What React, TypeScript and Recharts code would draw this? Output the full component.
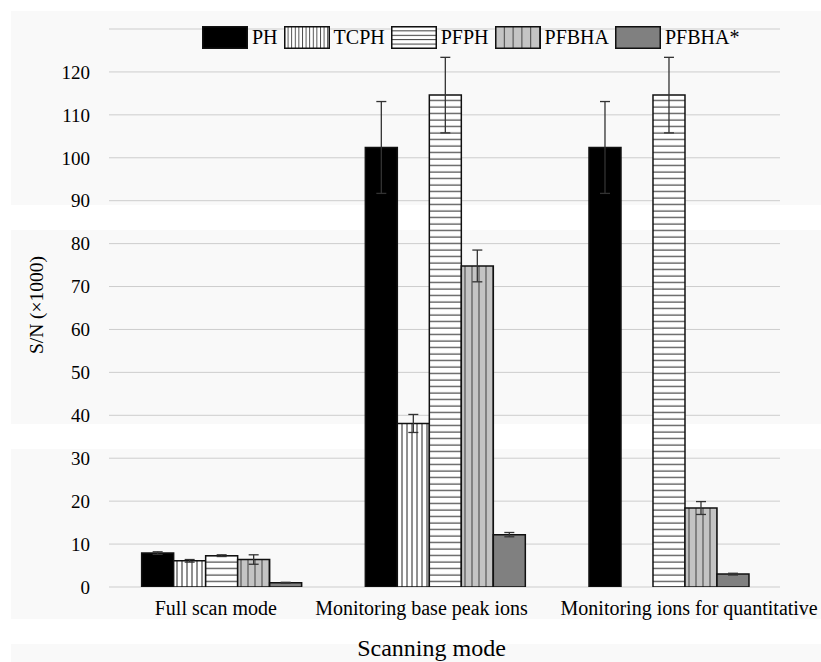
import { BarChart, Bar, XAxis, YAxis, CartesianGrid, ErrorBar } from 'recharts';

const categories = ['Full scan mode', 'Monitoring base peak ions', 'Monitoring ions for quantitative'];
const yTicks = [0, 10, 20, 30, 40, 50, 60, 70, 80, 90, 100, 110, 120];

const phValues = [7.9, 102.4, 102.4];
const phErrors = [0.3, 10.7, 10.7];
const tcphValues = [6.1, 38.1, null];
const tcphErrors = [0.3, 2.1, null];
const pfphValues = [7.3, 114.6, 114.6];
const pfphErrors = [0.2, 8.8, 8.8];
const pfbhaValues = [6.4, 74.8, 18.4];
const pfbhaErrors = [1.1, 3.7, 1.5];
const pfbhaStarValues = [1.0, 12.2, 3.0];
const pfbhaStarErrors = [0.1, 0.5, 0.2];

// the original nudges the category labels apart so they don't collide
const tickShift = [-5, -23, 21];

const series = [
  { key: 'ph', name: 'PH', fill: '#000' },
  { key: 'tcph', name: 'TCPH', fill: 'url(#pat-tcph)' },
  { key: 'pfph', name: 'PFPH', fill: 'url(#pat-pfph)' },
  { key: 'pfbha', name: 'PFBHA', fill: 'url(#pat-pfbha)' },
  { key: 'pfbhaStar', name: 'PFBHA*', fill: '#808080' },
];

const data = categories.map((name, i) => ({
  name,
  ph: phValues[i],
  phErr: phErrors[i],
  tcph: tcphValues[i],
  tcphErr: tcphErrors[i],
  pfph: pfphValues[i],
  pfphErr: pfphErrors[i],
  pfbha: pfbhaValues[i],
  pfbhaErr: pfbhaErrors[i],
  pfbhaStar: pfbhaStarValues[i],
  pfbhaStarErr: pfbhaStarErrors[i],
}));

const font = 'Liberation Serif, Times New Roman, Times, serif';

function CategoryTick(props: any) {
  const { x, y, payload, index } = props;
  return (
    <text
      x={x + (tickShift[index] ?? 0)}
      y={y}
      dy="0.71em"
      textAnchor="middle"
      fill="#000"
      fontSize={20}
      fontFamily={font}
    >
      {payload.value}
    </text>
  );
}

// legend swatch, each with its own pattern defs
function Swatch({ kind }: { kind: string }) {
  const id = `sw-${kind}`;
  let fill = '#000';
  let defs = null;
  if (kind === 'tcph') {
    fill = `url(#${id})`;
    defs = (
      <pattern id={id} width="3.6" height="10" patternUnits="userSpaceOnUse">
        <rect width="3.6" height="10" fill="#fff" />
        <line x1="0.5" y1="0" x2="0.5" y2="10" stroke="#333" strokeWidth="0.9" />
      </pattern>
    );
  } else if (kind === 'pfph') {
    fill = `url(#${id})`;
    defs = (
      <pattern id={id} width="10" height="4.4" patternUnits="userSpaceOnUse">
        <rect width="10" height="4.4" fill="#fff" />
        <line x1="0" y1="0.5" x2="10" y2="0.5" stroke="#222" strokeWidth="0.9" />
      </pattern>
    );
  } else if (kind === 'pfbha') {
    fill = `url(#${id})`;
    defs = (
      <pattern id={id} width="8.8" height="10" patternUnits="userSpaceOnUse">
        <rect width="8.8" height="10" fill="#c4c4c4" />
        <line x1="0.5" y1="0" x2="0.5" y2="10" stroke="#444" strokeWidth="1" />
      </pattern>
    );
  } else if (kind === 'pfbhaStar') {
    fill = '#808080';
  }
  return (
    <svg width={46} height={23} style={{ display: 'block' }}>
      <defs>{defs}</defs>
      <rect x={0.75} y={0.75} width={44.5} height={21.5} fill={fill} stroke="#111" strokeWidth={1.5} />
    </svg>
  );
}

function TopLegend() {
  return (
    <div
      style={{
        position: 'absolute',
        left: 202,
        top: 26,
        display: 'flex',
        alignItems: 'center',
        fontFamily: font,
        fontSize: 20,
        color: '#000',
      }}
    >
      {series.map((s) => (
        <div key={s.key} style={{ display: 'flex', alignItems: 'center', marginRight: 6 }}>
          <Swatch kind={s.key} />
          <span style={{ marginLeft: 4 }}>{s.name}</span>
        </div>
      ))}
    </div>
  );
}

export default function App() {
  return (
    <div
      style={{
        position: 'absolute',
        left: 0,
        top: 0,
        width: 821,
        height: 662,
        background: '#fff',
        overflow: 'hidden',
        fontFamily: font,
      }}
    >
      <div
        style={{
          position: 'absolute',
          left: 11,
          top: 11,
          right: 0,
          bottom: 0,
          background:
            'linear-gradient(to bottom, #f9f9f9 0px, #f9f9f9 194px, #fff 194px, #fff 219px, #f9f9f9 219px, #f9f9f9 413px, #fff 413px, #fff 438px, #f9f9f9 438px, #f9f9f9 608px, #fff 608px, #fff 633px, #f9f9f9 633px)',
        }}
      />
      <div style={{ position: 'absolute', left: 0, top: 0 }}>
        <BarChart
          width={821}
          height={662}
          data={data}
          margin={{ top: 29, right: 41, left: 0, bottom: 0 }}
          barCategoryGap="14.6%"
          barGap={0}
          style={{ fontFamily: font }}
        >
          <defs>
            <pattern id="pat-tcph" width="5" height="10" patternUnits="userSpaceOnUse">
              <rect width="5" height="10" fill="#fff" />
              <line x1="2" y1="0" x2="2" y2="10" stroke="#222" strokeWidth="1" />
            </pattern>
            <pattern id="pat-pfph" width="10" height="6.5" patternUnits="userSpaceOnUse">
              <rect width="10" height="6.5" fill="#fff" />
              <line x1="0" y1="3" x2="10" y2="3" stroke="#222" strokeWidth="1" />
            </pattern>
            <pattern id="pat-pfbha" width="7" height="10" patternUnits="userSpaceOnUse">
              <rect width="7" height="10" fill="#c4c4c4" />
              <line x1="3" y1="0" x2="3" y2="10" stroke="#555" strokeWidth="1.2" />
            </pattern>
          </defs>
          <CartesianGrid vertical={false} stroke="#cdcdcd" strokeWidth={1} />
          <XAxis
            dataKey="name"
            interval={0}
            axisLine={false}
            tickLine={false}
            tickSize={0}
            tickMargin={14}
            height={75}
            tick={<CategoryTick />}
            label={{
              value: 'Scanning mode',
              position: 'insideBottom',
              offset: 6,
              dx: -13,
              style: { fill: '#000', fontSize: 24, fontFamily: font },
            }}
          />
          <YAxis
            type="number"
            domain={[0, 130]}
            ticks={yTicks}
            allowDataOverflow
            axisLine={false}
            tickLine={false}
            tickSize={0}
            tickMargin={19}
            width={109}
            tick={{ fill: '#000', fontSize: 19, fontFamily: font }}
            label={{
              value: 'S/N (×1000)',
              angle: -90,
              position: 'insideLeft',
              offset: 0,
              dx: 36,
              dy: -3,
              style: { fill: '#000', fontSize: 19.5, fontFamily: font, textAnchor: 'middle' },
            }}
          />
          {series.map((s) => (
            <Bar
              key={s.key}
              dataKey={s.key}
              name={s.name}
              fill={s.fill}
              stroke="#111"
              strokeWidth={1.5}
              isAnimationActive={false}
            >
              <ErrorBar dataKey={`${s.key}Err`} width={5} stroke="#333" strokeWidth={1.3} />
            </Bar>
          ))}
        </BarChart>
      </div>
      <TopLegend />
    </div>
  );
}
